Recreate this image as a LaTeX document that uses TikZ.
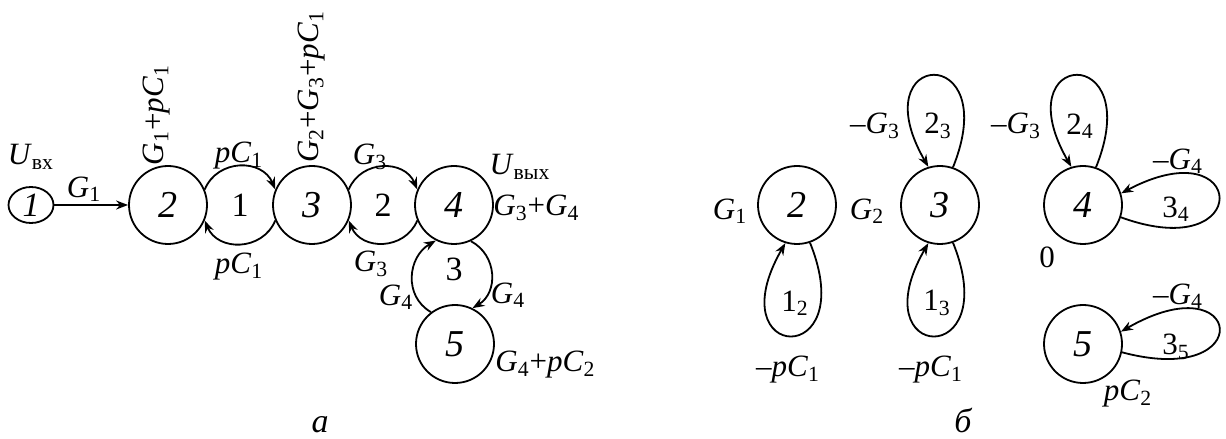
\documentclass[tikz,border=0pt]{standalone}
\usepackage{fontspec}
\setmainfont{Liberation Serif}
\usetikzlibrary{arrows.meta,shapes.geometric}
\newcommand\Gi[1]{\textit{G}\textsubscript{#1}}
\newcommand\Ci[1]{\textit{C}\textsubscript{#1}}
\newcommand\pp{\textit{p}}
\newcommand\Ui[1]{\textit{U}\textsubscript{#1}}
\tikzset{
  nd/.style={circle,draw,line width=0.9pt,minimum size=39pt,inner sep=0pt,font=\fontsize{19}{22}\selectfont\itshape},
  smallnd/.style={ellipse,draw,line width=0.9pt,minimum width=22.5pt,minimum height=18pt,inner sep=0pt,font=\fontsize{17}{20}\selectfont\itshape},
  lbl/.style={inner sep=0pt,font=\fontsize{15.5}{18}\selectfont},
  looplbl/.style={inner sep=0pt,font=\fontsize{17}{20}\selectfont},
  captxt/.style={inner sep=0pt,anchor=base,font=\fontsize{17}{20}\selectfont\itshape},
  arr/.style={line width=0.9pt,-{Stealth[length=6pt,width=4.5pt]}}
}
\begin{document}
\begin{tikzpicture}[x=0.5pt,y=0.5pt]
\useasboundingbox (0,0) rectangle (1226,439);
% ---------- part a ----------
\node[smallnd] (n1) at (31,234) {1};
\node[nd] (n2) at (168,234) {2};
\node[nd] (n3) at (312,234) {3};
\node[nd] (n4) at (454,234) {4};
\node[nd] (n5) at (455,95) {5};
\draw[arr] (n1) -- (n2);
\draw[arr] (n2.23) to[out=67,in=113,looseness=1.22] (n3.157);
\draw[arr] (n3.-157) to[out=-113,in=-67,looseness=1.22] (n2.-23);
\draw[arr] (n3.23) to[out=67,in=113,looseness=1.22] (n4.157);
\draw[arr] (n4.-157) to[out=-113,in=-67,looseness=1.22] (n3.-23);
\draw[arr] (n4.-65) to[out=-28,in=31,looseness=1.15] (n5.64);
\draw[arr] (n5.127) to[out=150,in=-150,looseness=1.15] (n4.-117);
\node[looplbl] (la1) at (240,234) {1};
\node[looplbl] (la2) at (383,234) {2};
\node[looplbl] (la3) at (454,170) {3};
\node[lbl] (uin) at (31,282) {\Ui{вх}};
\node[lbl] (g1) at (84,250) {\Gi{1}};
\node[lbl,rotate=90] (g1pc1) at (157,324) {\Gi{1}+\pp\Ci{1}};
\node[lbl,rotate=90] (g2g3pc1) at (312,352) {\Gi{2}+\Gi{3}+\pp\Ci{1}};
\node[lbl] (pc1t) at (239,283) {\pp\Ci{1}};
\node[lbl] (g3t) at (370,282) {\Gi{3}};
\node[lbl] (pc1b) at (239,172) {\pp\Ci{1}};
\node[lbl] (g3b) at (371,175) {\Gi{3}};
\node[lbl] (g4l) at (396,142) {\Gi{4}};
\node[lbl] (uout) at (520,272) {\Ui{вых}};
\node[lbl,anchor=west] (g3g4) at (493,231) {\Gi{3}+\Gi{4}};
\node[lbl] (g4r) at (508,144) {\Gi{4}};
\node[lbl,anchor=west] (g4pc2) at (495,74) {\Gi{4}+\pp\Ci{2}};
\node[captxt] (capa) at (320,6) {а};
% ---------- part b ----------
\node[nd] (b2) at (797,234) {2};
\node[nd] (b3) at (940,234) {3};
\node[nd] (b4) at (1083,234) {4};
\node[nd] (b5) at (1083,95) {5};
\draw[arr] (b2.-71) .. controls +(-68:138) and +(-120:138) .. (b2.-107);
\draw[arr] (b3.-71) .. controls +(-68:138) and +(-120:138) .. (b3.-107);
\draw[arr] (b3.71) .. controls +(68:136) and +(120:136) .. (b3.107);
\draw[arr] (b4.71) .. controls +(68:136) and +(120:136) .. (b4.107);
\draw[arr] (b4.-18) .. controls +(-20:143) and +(28:143) .. (b4.17);
\draw[arr] (b5.-12) .. controls +(-15:142) and +(30:142) .. (b5.18);
\node[lbl] (bg1) at (730,228) {\Gi{1}};
\node[lbl] (bg2) at (867,228) {\Gi{2}};
\node[lbl] (l12) at (795,136) {1\textsubscript{2}};
\node[lbl] (l13) at (937,136) {1\textsubscript{3}};
\node[lbl] (mpc1a) at (788,69) {\textendash\pp\Ci{1}};
\node[lbl] (mpc1b) at (931,69) {\textendash\pp\Ci{1}};
\node[lbl] (mg3a) at (875,313) {\textendash\Gi{3}};
\node[lbl] (l23) at (938,313) {2\textsubscript{3}};
\node[lbl] (mg3b) at (1016,313) {\textendash\Gi{3}};
\node[lbl] (l24) at (1080,313) {2\textsubscript{4}};
\node[lbl] (mg4a) at (1178,278) {\textendash\Gi{4}};
\node[lbl] (l34) at (1176,230) {3\textsubscript{4}};
\node[lbl] (zero) at (1047,182) {0};
\node[lbl] (mg4b) at (1178,143) {\textendash\Gi{4}};
\node[lbl] (l35) at (1176,92) {3\textsubscript{5}};
\node[lbl] (pc2) at (1128,45) {\pp\Ci{2}};
\node[captxt] (capb) at (963,6) {б};
\end{tikzpicture}
\end{document}
